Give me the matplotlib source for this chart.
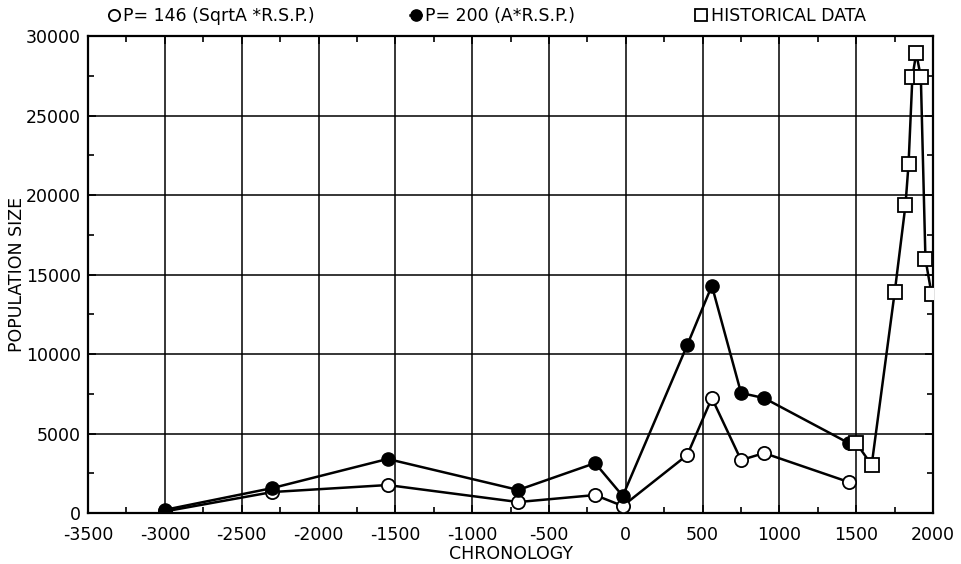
import matplotlib
matplotlib.use("Agg")
import matplotlib.pyplot as plt
from matplotlib.ticker import MultipleLocator

plt.rcParams['font.family'] = ['Liberation Sans Narrow', 'DejaVu Sans']
plt.rcParams['axes.unicode_minus'] = False

# P = 146 (SqrtA * R.S.P.)
years_model = [-3000, -2300, -1550, -700, -200, -20, 400, 560, 750, 900, 1450]
pop_146 = [100, 1320, 1760, 690, 1130, 440, 3650, 7230, 3330, 3770, 1950]
# P = 200 (A * R.S.P.)
pop_200 = [200, 1570, 3400, 1450, 3140, 1070, 10570, 14300, 7550, 7230, 4400]
# historical data
years_hist = [1500, 1600, 1750, 1820, 1840, 1865, 1890, 1920, 1950, 1990]
pop_hist = [4400, 3020, 13900, 19370, 21950, 27420, 28930, 27420, 15970, 13770]

fig = plt.figure(figsize=(9.61, 5.64), dpi=100)
ax = fig.add_axes([0.0916, 0.0904, 0.8794, 0.8456])

l1, = ax.plot(years_model, pop_146, '-o', color='black', lw=1.8,
              markerfacecolor='white', markeredgecolor='black',
              markeredgewidth=1.3, markersize=9.5, zorder=3,
              label='P= 146 (SqrtA *R.S.P.)')
l2, = ax.plot(years_model, pop_200, '-o', color='black', lw=1.8,
              markerfacecolor='black', markersize=9.5, zorder=4,
              label='P= 200 (A*R.S.P.)')
l3, = ax.plot(years_hist, pop_hist, '-s', color='black', lw=1.8,
              markerfacecolor='white', markeredgecolor='black',
              markeredgewidth=1.3, markersize=10, zorder=5,
              label='HISTORICAL DATA')

ax.set_xlim(-3500, 2000)
ax.set_ylim(0, 30000)
ax.xaxis.set_major_locator(MultipleLocator(500))
ax.xaxis.set_minor_locator(MultipleLocator(250))
ax.yaxis.set_major_locator(MultipleLocator(5000))
ax.yaxis.set_minor_locator(MultipleLocator(2500))
ax.grid(True, which='major', color='black', lw=1.1)
ax.tick_params(which='both', direction='in', top=True, right=True,
               labelsize=12.5, width=1.2)
ax.tick_params(which='major', length=6)
ax.tick_params(which='minor', length=4)
ax.tick_params(axis='x', pad=9)
ax.tick_params(axis='y', pad=5)
for s in ax.spines.values():
    s.set_linewidth(1.6)

ax.set_xlabel('CHRONOLOGY', fontsize=12.5, labelpad=1)
ax.set_ylabel('POPULATION SIZE', fontsize=12.5, labelpad=0)

# one legend per entry so each sits where the reference has it
for h, x0 in [(l1, 0.113), (l2, 0.427), (l3, 0.724)]:
    fig.legend(handles=[h], loc='center left', bbox_to_anchor=(x0, 0.972),
               frameon=False, fontsize=12.5, handlelength=0.6,
               handletextpad=0.25, borderaxespad=0, borderpad=0,
               markerscale=0.85)

fig.savefig('out.png', dpi=100)
